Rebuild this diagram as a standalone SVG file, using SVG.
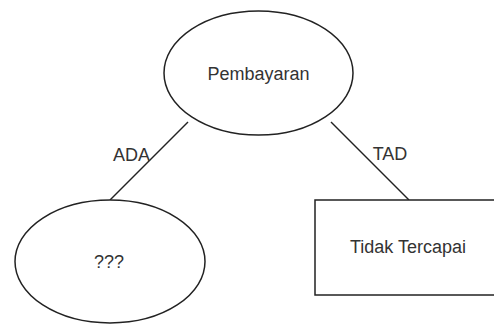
<svg xmlns="http://www.w3.org/2000/svg" width="494" height="324" viewBox="0 0 494 324">
<style>
.shape{fill:#fff;stroke:#222;stroke-width:1.5}
.lbl{font-family:"Liberation Sans",Arial,sans-serif;font-size:18px;fill:#333;text-anchor:middle}
.edge{stroke:#222;stroke-width:1.5;fill:none}
</style>
<rect width="494" height="324" fill="#fff"/>
<g id="connectors">
<line class="edge" x1="188" y1="122" x2="110" y2="200"/>
<line class="edge" x1="331" y1="122" x2="409" y2="200"/>
<text class="lbl" x="131.5" y="161">ADA</text>
<text class="lbl" x="390" y="160">TAD</text>
</g>
<g id="pembayaran">
<ellipse class="shape" cx="258.5" cy="73" rx="94.5" ry="62"/>
<text class="lbl" x="258.5" y="80">Pembayaran</text>
</g>
<g id="unknown">
<ellipse class="shape" cx="110" cy="261.5" rx="95" ry="61.5"/>
<text class="lbl" x="109" y="268">???</text>
</g>
<g id="tidak-tercapai">
<rect class="shape" x="315" y="200" width="186" height="95"/>
<text class="lbl" x="408" y="253">Tidak Tercapai</text>
</g>
</svg>
